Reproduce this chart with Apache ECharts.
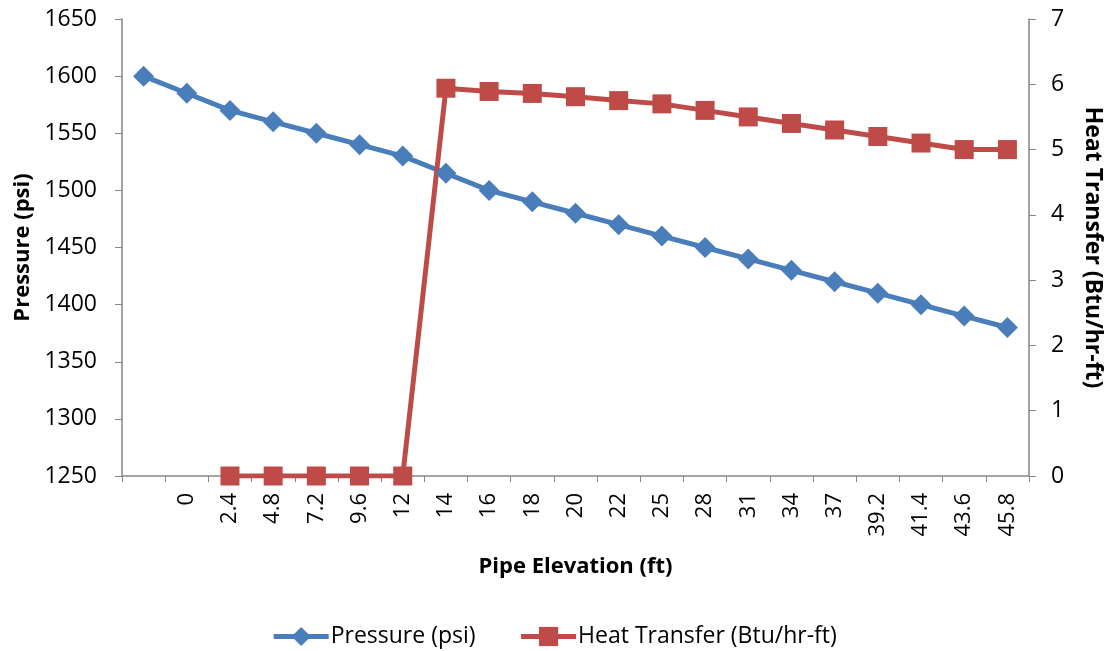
<!DOCTYPE html>
<html>
<head>
<meta charset="utf-8">
<script src="https://cdn.jsdelivr.net/npm/echarts@6/dist/echarts.min.js"></script>
<style>
  html, body { margin: 0; padding: 0; background: #fff; }
  #chart { width: 1108px; height: 651px; }
</style>
</head>
<body>
<div id="chart"></div>
<script>
// x categories (first one has no label)
const elevation = ['', '0', '2.4', '4.8', '7.2', '9.6', '12', '14', '16', '18', '20', '22', '25', '28', '31', '34', '37', '39.2', '41.4', '43.6', '45.8']
// pressure (psi)
const pressure = [1600, 1585, 1570, 1560, 1550, 1540, 1530, 1515, 1500, 1490, 1480, 1470, 1460, 1450, 1440, 1430, 1420, 1410, 1400, 1390, 1380]
// heat transfer (Btu/hr-ft)
const heatTransfer = [null, null, 0, 0, 0, 0, 0, 5.94, 5.89, 5.86, 5.81, 5.75, 5.70, 5.60, 5.50, 5.40, 5.30, 5.20, 5.10, 5.00, 5.00]

const font = "'Open Sans', 'Noto Sans', sans-serif"
const axisColor = '#868686'

const myChart = echarts.init(document.getElementById('chart'))
myChart.setOption({
  animation: false,
  textStyle: { fontFamily: font },
  grid: { left: 122, right: 79, top: 19, bottom: 175, containLabel: false, outerBoundsMode: 'none' },
  legend: {
    top: 620,
    left: 'center',
    itemWidth: 55,
    itemHeight: 24,
    itemGap: 43,
    lineStyle: { width: 5 },
    textStyle: { fontSize: 23, color: '#000', fontFamily: font, padding: [0, 0, 0, -3] },
    data: ['Pressure (psi)', 'Heat Transfer (Btu/hr-ft)']
  },
  xAxis: {
    type: 'category',
    data: elevation,
    boundaryGap: true,
    name: 'Pipe Elevation (ft)',
    nameLocation: 'middle',
    nameGap: 80,
    nameTextStyle: { fontSize: 22, fontWeight: 'bold', color: '#000' },
    axisLine: { lineStyle: { color: axisColor, width: 1.5 } },
    axisTick: { show: true, length: 6, interval: 0, lineStyle: { color: axisColor } },
    axisLabel: { rotate: 90, interval: 0, fontSize: 22, color: '#000', margin: 17 },
    splitLine: { show: false }
  },
  yAxis: [
    {
      type: 'value',
      min: 1250,
      max: 1650,
      interval: 50,
      name: 'Pressure (psi)',
      nameLocation: 'middle',
      nameGap: 88,
      nameTextStyle: { fontSize: 22, fontWeight: 'bold', color: '#000' },
      axisLine: { show: true, lineStyle: { color: axisColor, width: 1.5 } },
      axisTick: { show: true, length: 7, lineStyle: { color: axisColor } },
      axisLabel: { fontSize: 23, color: '#000', margin: 25, formatter: v => String(v) },
      splitLine: { show: false }
    },
    {
      type: 'value',
      min: 0,
      max: 7,
      interval: 1,
      name: 'Heat Transfer (Btu/hr-ft)',
      nameLocation: 'middle',
      nameGap: 52,
      nameRotate: -90,
      nameTextStyle: { fontSize: 23, fontWeight: 'bold', color: '#000' },
      axisLine: { show: true, lineStyle: { color: axisColor, width: 1.5 } },
      axisTick: { show: true, length: 7, lineStyle: { color: axisColor } },
      axisLabel: { fontSize: 23, color: '#000', margin: 22 },
      splitLine: { show: false }
    }
  ],
  series: [
    {
      name: 'Pressure (psi)',
      type: 'line',
      yAxisIndex: 0,
      data: pressure,
      symbol: 'diamond',
      symbolSize: 21,
      lineStyle: { color: '#4a7ebb', width: 5 },
      itemStyle: { color: '#4a7ebb' }
    },
    {
      name: 'Heat Transfer (Btu/hr-ft)',
      type: 'line',
      yAxisIndex: 1,
      data: heatTransfer,
      symbol: 'rect',
      symbolSize: 19,
      lineStyle: { color: '#be4b48', width: 5 },
      itemStyle: { color: '#be4b48' }
    }
  ]
})
</script>
</body>
</html>
